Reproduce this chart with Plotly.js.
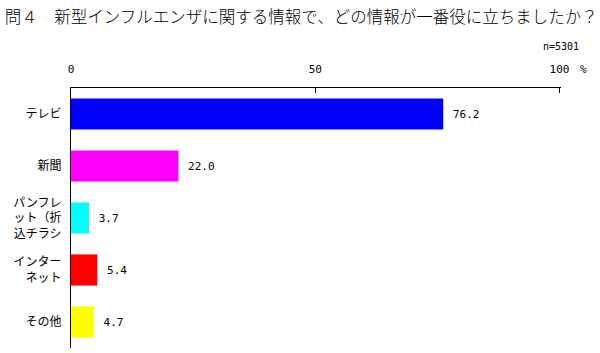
<!DOCTYPE html>
<html><head><meta charset="utf-8">
<script src="https://cdn.plot.ly/plotly-3.0.1.min.js"></script>
<style>body{margin:0;background:#fff}</style>
</head><body><div id="chart" style="width:600px;height:353px"></div>
<script>
const categories = ["テレビ", "新聞", "パンフレ<br>ット（折<br>込チラシ", "インター<br>ネット", "その他"];
const values = [76.2, 22.0, 3.7, 5.4, 4.7];
const barColors = ["#0000FF", "#FF00FF", "#00FFFF", "#FF0000", "#FFFF00"];
const tickVals = [0, 50, 100];
const tickLabels = ["0", "50", "100"];
const titleText = "問４　新型インフルエンザに関する情報で、どの情報が一番役に立ちましたか？";
const nText = "n=5301";

const font = "'Noto Sans CJK JP', 'DejaVu Sans Mono', monospace";
const mono = "'DejaVu Sans Mono', monospace";
const trace = {
  type: "bar", orientation: "h",
  x: values, y: categories.map((c, i) => i),
  marker: {color: barColors, line: {width: 0}},
  width: 0.6,
  text: values.map(v => "\u00a0" + v.toFixed(1)),
  textposition: "outside",
  textfont: {family: mono, size: 11, color: "#000"},
  cliponaxis: false,
  hoverinfo: "none"
};
const layout = {
  width: 600, height: 353,
  margin: {l: 71, r: 39, t: 88, b: 5},
  paper_bgcolor: "#fff", plot_bgcolor: "#fff",
  font: {family: font, size: 12, color: "#000"},
  showlegend: false,
  title: {text: titleText, x: 0.008, xanchor: "left", y: 0.95, yanchor: "middle", font: {family: font, size: 16.5, color: "#000", weight: 300}},
  xaxis: {
    side: "top", range: [0, 100.3], tickvals: tickVals, ticktext: tickLabels,
    ticks: "inside", ticklen: 5, tickwidth: 1, tickcolor: "#000", showline: true, linecolor: "#000", linewidth: 1,
    showgrid: false, zeroline: false, fixedrange: true,
    tickfont: {family: mono, size: 11}, ticklabelstandoff: 10
  },
  yaxis: {
    range: [4.5, -0.5], tickvals: categories.map((c, i) => i), ticktext: categories,
    ticks: "", showline: true, linecolor: "#000", linewidth: 1, showgrid: false, zeroline: false,
    tickfont: {family: font, size: 12}, fixedrange: true, ticklabelstandoff: 6
  },
  annotations: [
    {text: nText, xref: "paper", yref: "paper", x: 1.04, y: 1.16, xanchor: "right", yanchor: "middle", showarrow: false, font: {family: mono, size: 10}},
    {text: "%", xref: "paper", yref: "paper", x: 1.045, y: 1.07, xanchor: "center", yanchor: "middle", showarrow: false, font: {family: mono, size: 11}}
  ],
  bargap: 0.4
};
Plotly.newPlot("chart", [trace], layout, {displayModeBar: false, staticPlot: true});
</script></body></html>
